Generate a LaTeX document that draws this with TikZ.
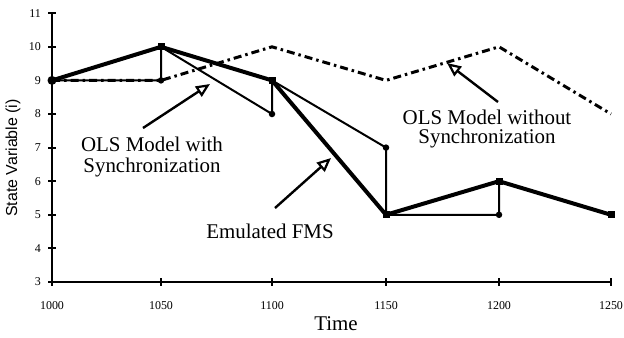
\documentclass[tikz,border=0pt]{standalone}
\usepackage{fontspec}
\setmainfont{Liberation Serif}
\newfontfamily\axisfont{Liberation Sans}
\usetikzlibrary{arrows.meta}

\begin{document}
\begin{tikzpicture}[x=1bp,y=-1bp,
  axisline/.style={line width=2.4bp},
  fmsline/.style={line width=4bp, line join=round},
  syncline/.style={line width=2bp, line join=round},
  nosyncline/.style={line width=3bp, line join=round,
    dash pattern=on 8bp off 4bp on 2.5bp off 4bp},
  fmsmark/.style={rectangle, fill=black, inner sep=0pt, minimum size=7bp},
  syncmark/.style={circle, fill=black, inner sep=0pt, minimum size=6.5bp},
  callout/.style={line width=2.4bp,
    -{Triangle[open, length=14bp, width=12bp, line width=2.2bp]}},
  notetext/.style={font=\fontsize{21}{21}\selectfont, align=center, inner sep=0pt},
  ticklabel/.style={font=\fontsize{12}{12}\selectfont, inner sep=0pt},
]
\useasboundingbox (0,0) rectangle (624,337);

% ---- axes ----
\coordinate (origin) at (52,282);
\coordinate (ytop) at (52,13);
\coordinate (xend) at (611,282);
\draw[axisline] (ytop) -- (origin) -- (xend);

% y ticks and labels (3 ... 11)
\foreach \v in {3,...,11}{
  \pgfmathsetmacro{\py}{282-(\v-3)*33.6}
  \draw[line width=2bp] (48,\py) -- (56,\py);
  \node[ticklabel, anchor=east] (yl\v) at (41,\py) {\v};
}
% x ticks and labels
\foreach \t/\px in {1000/52,1050/161,1100/272,1150/386,1200/499,1250/611}{
  \draw[line width=2bp] (\px,278) -- (\px,286);
  \node[ticklabel] (xl\t) at (\px,306) {\t};
}

\node[font=\fontsize{21}{21}\selectfont, inner sep=0pt] (xtitle) at (336,324) {Time};
\node[font=\axisfont\fontsize{16}{16}\selectfont, rotate=90, inner sep=0pt]
  (ytitle) at (13,158) {State Variable (i)};

% ---- data points ----
% emulated FMS
\coordinate (f0) at (52,80.4);
\coordinate (f1) at (161,46.8);
\coordinate (f2) at (272,80.4);
\coordinate (f3) at (386,214.8);
\coordinate (f4) at (499,181.2);
\coordinate (f5) at (611,214.8);
% OLS predictions with synchronization
\coordinate (s1) at (161,80.4);
\coordinate (s2) at (272,114);
\coordinate (s3) at (386,147.6);
\coordinate (s4) at (499,214.8);
% OLS model without synchronization
\coordinate (n2) at (272,46.8);
\coordinate (n3) at (386,80.4);
\coordinate (n4) at (499,46.8);
\coordinate (n5) at (611,114);

\draw[nosyncline] (f0) -- (s1) -- (n2) -- (n3) -- (n4) -- (n5);
\draw[syncline] (f0) -- (s1) -- (f1) -- (s2) -- (f2) -- (s3) -- (f3) -- (s4) -- (f4);
\draw[fmsline] (f0) -- (f1) -- (f2) -- (f3) -- (f4) -- (f5);

\node[circle, fill=black, inner sep=0pt, minimum size=9bp] (mk0) at (f0) {};
\foreach \i in {1,...,5}{ \node[fmsmark] (mk\i) at (f\i) {}; }
\foreach \i in {1,...,4}{ \node[syncmark] (ms\i) at (s\i) {}; }

% ---- annotations ----
\node[notetext] (lblsync) at (152,157) {OLS Model with\\Synchronization};
\node[notetext] (lblfms) at (270,231) {Emulated FMS};
\node[notetext, font=\fontsize{21}{19}\selectfont] (lblnosync) at (487,129)
  {OLS Model without\\Synchronization};

\coordinate (a1s) at (143,128);
\coordinate (a1e) at (210,84);
\coordinate (a2s) at (275,208);
\coordinate (a2e) at (331,158);
\coordinate (a3s) at (498,102);
\coordinate (a3e) at (447,63);
\draw[callout] (a1s) -- (a1e);
\draw[callout] (a2s) -- (a2e);
\draw[callout] (a3s) -- (a3e);
\end{tikzpicture}
\end{document}
